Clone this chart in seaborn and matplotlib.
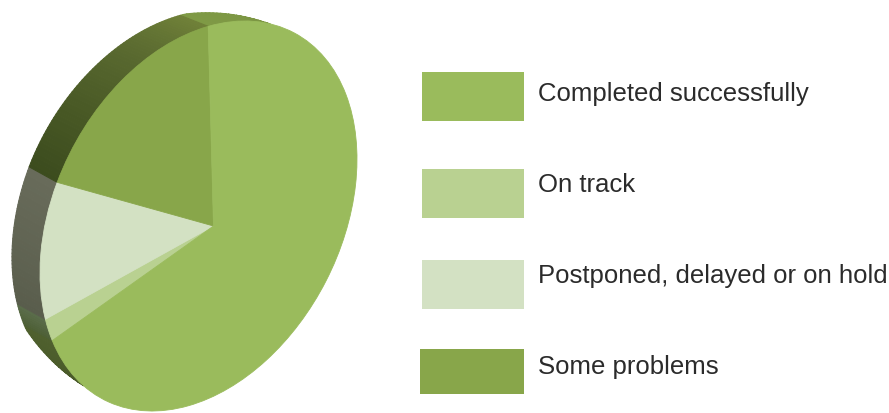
import numpy as np
import matplotlib
matplotlib.use("Agg")
import matplotlib.pyplot as plt
from matplotlib.collections import PolyCollection
from matplotlib.patches import Rectangle
from matplotlib.transforms import Transform
import seaborn as sns

# Project status shares, in percent
categories = ["Completed successfully", "On track", "Postponed, delayed or on hold", "Some problems"]
shares = [71, 2, 10.5, 16.5]
face_colors = ["#9abb5c", "#b9d191", "#d3e1c3", "#88a64a"]

# Shading along the side wall of each slice, in pie order
wall_stops = [
    ["#7f9a45", "#778f40", "#5f7535", "#4a5a28", "#3f4e20", "#4f602e"],
    ["#4e6036", "#5a6c4a"],
    ["#595d4c", "#686b5a"],
    ["#3c4c1e", "#4a5a26", "#5a6a30", "#6f8038"],
]


class TiltedDisc(Transform):
    """Projects the unit disc onto a tilted ellipse, with perspective on the centre."""
    input_dims = 2
    output_dims = 2
    is_separable = False
    has_inverse = False

    def __init__(self, centre, shape, apex):
        super().__init__()
        self.centre = np.asarray(centre, float)
        self.shape_matrix = np.asarray(shape, float)
        local = np.linalg.solve(self.shape_matrix, np.asarray(apex, float) - self.centre)
        self.shift = np.hypot(*local)
        self.turn = np.arctan2(local[1], local[0])

    def transform_non_affine(self, values):
        values = np.asarray(values, float)
        c, s = np.cos(self.turn), np.sin(self.turn)
        xr = c * values[:, 0] + s * values[:, 1]
        yr = -s * values[:, 0] + c * values[:, 1]
        a = self.shift
        w = 1 + a * xr
        xp = (xr + a) / w
        yp = yr * np.sqrt(1 - a * a) / w
        disc = np.column_stack([c * xp - s * yp, s * xp + c * yp])
        return disc @ self.shape_matrix.T + self.centre

    def outside(self, points):
        """True for points that lie beyond the rim of the projected disc."""
        local = np.linalg.solve(self.shape_matrix, (points - self.centre).T).T
        return np.hypot(local[:, 0], local[:, 1]) > 1.002


def extrude(rim):
    """Back edge of the wall: the depth eases off towards both ends of the visible side."""
    lift = -15.5 + 4.5 * np.clip((183 - rim[:, 1]) / 154, 0, 1)
    ease = np.sqrt(np.clip((386 - rim[:, 1]) / 40, 0, 1) * np.clip((268 - rim[:, 0]) / 55, 0, 1))
    return rim + np.column_stack([np.full(len(rim), -28.0), lift]) * ease[:, None]


sns.set_theme(style="white")
plt.rcParams["font.family"] = ["Liberation Sans", "DejaVu Sans"]

fig = plt.figure(figsize=(8.89, 4.14), dpi=100, facecolor="white")
ax = fig.add_axes([0, 0, 1, 1])

wedges, _ = ax.pie(shares, colors=face_colors, startangle=-92, counterclock=True, frame=True)
ax.set_aspect("auto")
ax.set_xlim(0, 889)
ax.set_ylim(414, 0)
ax.axis("off")

disc = TiltedDisc(centre=(198.5, 217), shape=[[158.5, 0], [-57, 186.5]], apex=(213.5, 227))

for wedge, stops, color in zip(wedges, wall_stops, face_colors):
    wedge.set_transform(disc + ax.transData)
    wedge.set_edgecolor(color)
    wedge.set_linewidth(0.6)
    wedge.set_zorder(3)

    # Side wall: a strip of quads swept from the rim of this slice, back-facing ones left out
    angles = np.radians(np.linspace(wedge.theta1, wedge.theta2, int(wedge.theta2 - wedge.theta1) + 2))
    rim = disc.transform(np.column_stack([np.cos(angles), np.sin(angles)]))
    back = extrude(rim)
    shown = disc.outside(back)
    shades = sns.blend_palette(stops, n_colors=len(rim) - 1)
    keep = [i for i in range(len(rim) - 1) if shown[i] or shown[i + 1]]
    quads = [np.array([rim[i], rim[i + 1], back[i + 1], back[i]]) for i in keep]
    fills = [shades[i] for i in keep]
    ax.add_collection(PolyCollection(quads, facecolors=fills, edgecolors=fills, linewidths=0.8, zorder=2))

# Keep the larger slice on top so the thin slices keep their own edges
wedges[0].set_zorder(3.5)

# Legend, spaced by hand
swatch_x = [422, 422, 422, 420]
swatch_top = [73, 170, 261, 350]
swatch_height = [49, 49, 49, 45]
text_baseline = [101, 192, 283, 374]
for label, color, x, top, height, base in zip(categories, face_colors, swatch_x, swatch_top, swatch_height, text_baseline):
    ax.add_patch(Rectangle((x, top), 524 - x, height, facecolor=color, edgecolor="none"))
    ax.text(538.5, base, label, fontsize=18.5, color="#2b2b2b", ha="left", va="baseline")

fig.savefig("out.png", dpi=100, facecolor="white")
